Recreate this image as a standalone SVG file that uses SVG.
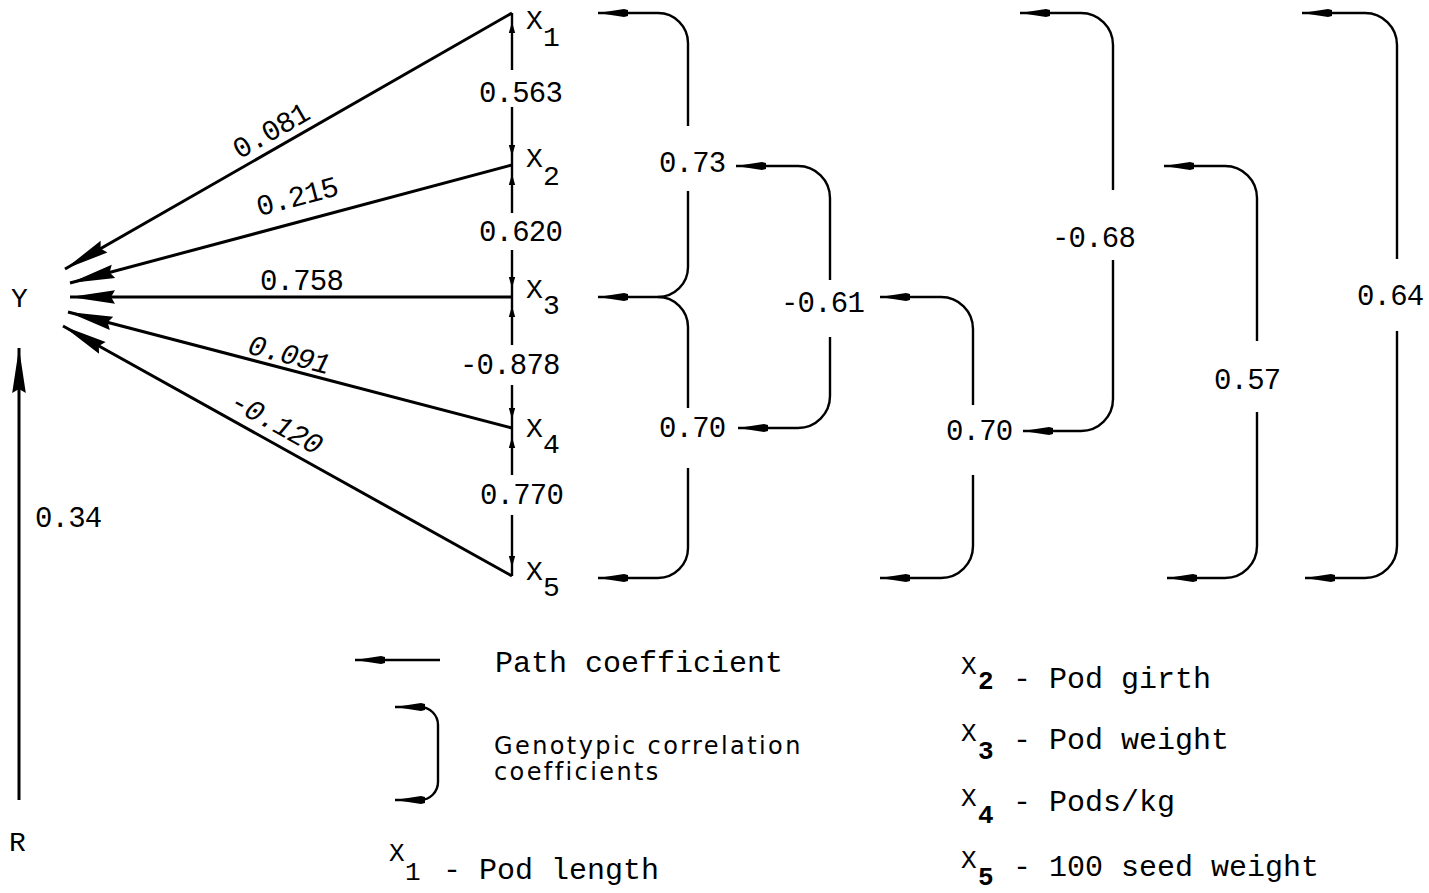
<svg xmlns="http://www.w3.org/2000/svg" width="1429" height="893" viewBox="0 0 1429 893">
<style>
text{fill:#000}
.t{font-family:"Liberation Mono","DejaVu Sans Mono",monospace;font-size:29px;letter-spacing:-0.8px}
.it{font-style:italic}
.x{font-family:"Liberation Mono","DejaVu Sans Mono",monospace;font-size:28px}
.lg{font-family:"Liberation Mono","DejaVu Sans Mono",monospace;font-size:30px}
.lx{font-family:"Liberation Mono","DejaVu Sans Mono",monospace;font-size:26px}
.b{font-weight:bold}
.s{font-family:"DejaVu Sans","Liberation Sans",sans-serif;font-size:24px;letter-spacing:2.4px}
.ln{fill:none;stroke:#000;stroke-width:3}
.br{fill:none;stroke:#000;stroke-width:2.4}
.col{fill:none;stroke:#000;stroke-width:2.4}
</style>
<defs>
<marker id="big" viewBox="-46 -8 47 16" refX="0" refY="0" markerWidth="47" markerHeight="16" markerUnits="userSpaceOnUse" orient="auto">
<path d="M0,0 L-45,-6.8 L-41,0 L-45,6.8 Z" fill="#000"/>
</marker>
<marker id="sm" viewBox="-32 -5 33 10" refX="0" refY="0" markerWidth="33" markerHeight="10" markerUnits="userSpaceOnUse" orient="auto-start-reverse">
<path d="M0,0 L-26,-4 L-30,-3 L-30,3 L-26,4 Z" fill="#000"/>
</marker>
<marker id="tiny" viewBox="-24 -5 25 10" refX="0" refY="0" markerWidth="25" markerHeight="10" markerUnits="userSpaceOnUse" orient="auto">
<path d="M-9,0 L-20,-3.2 L-20,3.2 Z" fill="#000"/>
</marker>
</defs>

<g id="connectors">
<!-- path coefficients to Y -->
<line class="ln" x1="512" y1="13" x2="65" y2="269" marker-end="url(#big)"/>
<line class="ln" x1="512" y1="165" x2="70" y2="283" marker-end="url(#big)"/>
<line class="ln" x1="512" y1="297" x2="70" y2="297" marker-end="url(#big)"/>
<line class="ln" x1="512" y1="428" x2="68" y2="312" marker-end="url(#big)"/>
<line class="ln" x1="512" y1="576" x2="63" y2="326" marker-end="url(#big)"/>
<!-- residual -->
<line class="ln" x1="19" y1="800" x2="19" y2="348" marker-end="url(#big)"/>
<!-- adjacent correlations column -->
<path class="col" d="M512,70 V13" marker-end="url(#tiny)"/>
<path class="col" d="M512,107 V165" marker-end="url(#tiny)"/>
<path class="col" d="M512,213 V165" marker-end="url(#tiny)"/>
<path class="col" d="M512,250 V297" marker-end="url(#tiny)"/>
<path class="col" d="M512,345 V297" marker-end="url(#tiny)"/>
<path class="col" d="M512,385 V428" marker-end="url(#tiny)"/>
<path class="col" d="M512,475 V428" marker-end="url(#tiny)"/>
<path class="col" d="M512,515 V576" marker-end="url(#tiny)"/>
<!-- genotypic correlation brackets -->
<path class="br" d="M598,13 H658 A30,30 0 0 1 688,43 V126 M688,191 V267 A30,30 0 0 1 658,297 H598" marker-start="url(#sm)" marker-end="url(#sm)"/>
<path class="br" d="M658,297 A30,30 0 0 1 688,327 V408 M688,468 V548 A30,30 0 0 1 658,578 H598" marker-end="url(#sm)"/>
<path class="br" d="M736,166 H798 A32,32 0 0 1 830,198 V280 M830,337 V396 A32,32 0 0 1 798,428 H738" marker-start="url(#sm)" marker-end="url(#sm)"/>
<path class="br" d="M880,297 H941 A32,32 0 0 1 973,329 V405 M973,475 V546 A32,32 0 0 1 941,578 H880" marker-start="url(#sm)" marker-end="url(#sm)"/>
<path class="br" d="M1020,13 H1081 A32,32 0 0 1 1113,45 V190 M1113,260 V399 A32,32 0 0 1 1081,431 H1023" marker-start="url(#sm)" marker-end="url(#sm)"/>
<path class="br" d="M1164,166 H1225 A32,32 0 0 1 1257,198 V341 M1257,412 V546 A32,32 0 0 1 1225,578 H1167" marker-start="url(#sm)" marker-end="url(#sm)"/>
<path class="br" d="M1302,13 H1365 A32,32 0 0 1 1397,45 V259 M1397,331 V546 A32,32 0 0 1 1365,578 H1305" marker-start="url(#sm)" marker-end="url(#sm)"/>
</g>

<g id="edge-labels">
<text class="t" text-anchor="middle" transform="translate(271,131) rotate(-29.8)" y="9">0.081</text>
<text class="t" text-anchor="middle" transform="translate(297,197) rotate(-14.9)" y="9">0.215</text>
<text class="t" x="260" y="290">0.758</text>
<text class="t it" text-anchor="middle" transform="translate(289,355) rotate(14.6)" y="9">0.091</text>
<text class="t it" text-anchor="middle" transform="translate(276,423) rotate(29.1)" y="9">-0.120</text>
<text class="t" x="479" y="102">0.563</text>
<text class="t" x="479" y="241">0.620</text>
<text class="t" x="460" y="374">-0.878</text>
<text class="t" x="480" y="504">0.770</text>
<text class="t" x="659" y="172">0.73</text>
<text class="t" x="659" y="437">0.70</text>
<text class="t" x="781" y="312">-0.61</text>
<text class="t" x="946" y="440">0.70</text>
<text class="t" x="1052" y="247">-0.68</text>
<text class="t" x="1214" y="389">0.57</text>
<text class="t" x="1357" y="305">0.64</text>
<text class="t" x="35" y="527">0.34</text>
</g>

<g id="Y"><text class="x" x="11" y="307">Y</text></g>
<g id="R"><text class="x" x="9" y="851">R</text></g>
<g id="X1"><text class="x" x="526" y="29">X</text><text class="x" x="543" y="46">1</text></g>
<g id="X2"><text class="x" x="526" y="167">X</text><text class="x" x="543" y="185">2</text></g>
<g id="X3"><text class="x" x="526" y="298">X</text><text class="x" x="543" y="314">3</text></g>
<g id="X4"><text class="x" x="526" y="437">X</text><text class="x" x="543" y="453">4</text></g>
<g id="X5"><text class="x" x="526" y="580">X</text><text class="x" x="543" y="596">5</text></g>

<g id="legend">
<path class="br" d="M440,660 H355" marker-end="url(#sm)"/>
<text class="lg" x="495" y="672">Path coefficient</text>
<path class="br" d="M395,707 H420 A18,18 0 0 1 438,725 V782 A18,18 0 0 1 420,800 H395" marker-start="url(#sm)" marker-end="url(#sm)"/>
<text class="s" x="494" y="754">Genotypic correlation</text>
<text class="s" x="494" y="780">coefficients</text>
<text class="lx" x="389" y="861">X</text><text class="lx" x="405" y="880">1</text>
<text class="lg" x="443" y="879">- Pod length</text>
<text class="lx" x="961" y="674">X</text><text class="lx b" x="978" y="689">2</text>
<text class="lg" x="1013" y="688">- Pod girth</text>
<text class="lx" x="961" y="741">X</text><text class="lx b" x="978" y="759">3</text>
<text class="lg" x="1013" y="749">- Pod weight</text>
<text class="lx" x="961" y="806">X</text><text class="lx b" x="978" y="823">4</text>
<text class="lg" x="1013" y="811">- Pods/kg</text>
<text class="lx" x="961" y="868">X</text><text class="lx b" x="978" y="885">5</text>
<text class="lg" x="1013" y="876">- 100 seed weight</text>
</g>
</svg>
